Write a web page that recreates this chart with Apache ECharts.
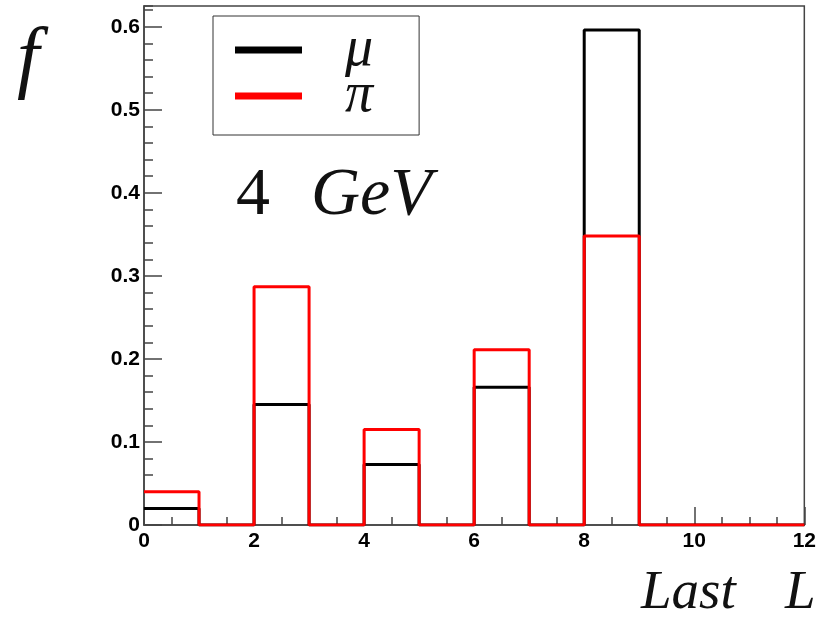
<!DOCTYPE html>
<html>
<head>
<meta charset="utf-8">
<script src="https://cdn.jsdelivr.net/npm/echarts@6/dist/echarts.min.js"></script>
<style>
  html, body { margin: 0; padding: 0; background: #fff; }
  #chart { width: 819px; height: 624px; }
</style>
</head>
<body>
<div id="chart"></div>
<script>
// bin edges of the "Last L" histogram and fraction per bin
var binEdges = [0, 1, 2, 3, 4, 5, 6, 7, 8, 9, 10, 11, 12]
var muValues = [0.020, 0, 0.145, 0, 0.073, 0, 0.166, 0, 0.596, 0, 0, 0]
var piValues = [0.040, 0, 0.287, 0, 0.115, 0, 0.211, 0, 0.348, 0, 0, 0]
var yTickLabels = ['0', '0.1', '0.2', '0.3', '0.4', '0.5', '0.6']

var AXIS_COLOR = '#444'
var SERIF = '"Liberation Serif", "DejaVu Serif", serif'
var SANS = '"Liberation Sans", Arial, sans-serif'

// step points: one per bin left edge, plus the last right edge
function toSteps(values) {
    var pts = []
    for (var i = 0; i < values.length; i++) {
        pts.push([binEdges[i], values[i]])
    }
    pts.push([binEdges[binEdges.length - 1], values[values.length - 1]])
    return pts
}

var chart = echarts.init(document.getElementById('chart'))

chart.setOption({
    animation: false,
    backgroundColor: '#fff',
    grid: {
        left: 144,
        right: 13,
        top: 6,
        bottom: 99,
        show: true,
        borderColor: AXIS_COLOR,
        borderWidth: 1.5
    },
    legend: {
        orient: 'vertical',
        left: 213,
        top: 16,
        padding: [6, 46, 11, 22],
        itemGap: -10,
        itemWidth: 67,
        itemHeight: 7,
        icon: 'rect',
        borderColor: '#333',
        borderWidth: 1,
        selectedMode: false,
        textStyle: {
            fontFamily: SERIF,
            fontStyle: 'italic',
            fontSize: 56,
            color: '#111',
            padding: [0, 0, 0, 38]
        },
        data: ['μ', 'π']
    },
    xAxis: {
        type: 'value',
        min: binEdges[0],
        max: binEdges[binEdges.length - 1],
        interval: 2,
        splitLine: { show: false },
        axisLine: { lineStyle: { color: AXIS_COLOR, width: 1.5 } },
        axisTick: { inside: true, length: 18, lineStyle: { color: AXIS_COLOR, width: 1.5 } },
        minorTick: { show: true, splitNumber: 4, length: 8, lineStyle: { color: AXIS_COLOR, width: 1.5 } },
        axisLabel: {
            margin: 6,
            color: '#000',
            fontFamily: SANS,
            fontWeight: 'bold',
            fontSize: 21
        }
    },
    yAxis: [{
        type: 'value',
        position: 'left',
        min: 0,
        max: 0.625,
        interval: 0.1,
        splitLine: { show: false },
        axisLine: { show: true, lineStyle: { color: AXIS_COLOR, width: 1.5 } },
        axisTick: { inside: true, length: 18, lineStyle: { color: AXIS_COLOR, width: 1.5 } },
        axisLabel: {
            margin: 4,
            showMaxLabel: false,
            color: '#000',
            fontFamily: SANS,
            fontWeight: 'bold',
            fontSize: 21,
            formatter: function (v) {
                var idx = Math.round(v * 10)
                return yTickLabels[idx] !== undefined ? yTickLabels[idx] : ''
            }
        }
    }, {
        // small ticks every 0.02
        type: 'value',
        position: 'left',
        min: 0,
        max: 0.625,
        interval: 0.02,
        splitLine: { show: false },
        axisLine: { show: false },
        axisTick: { inside: true, length: 9, lineStyle: { color: AXIS_COLOR, width: 1.5 } },
        axisLabel: { show: false }
    }],
    graphic: [
        { type: 'text', left: 17, top: 22, style: { text: 'f', font: 'italic 80px ' + SERIF, fill: '#111' } },
        { type: 'text', left: 236, top: 162, style: { text: '4', font: '68px ' + SERIF, fill: '#111' } },
        { type: 'text', left: 311, top: 162, style: { text: 'GeV', font: 'italic 68px ' + SERIF, fill: '#111' } },
        { type: 'text', left: 641, top: 566, style: { text: 'Last', font: 'italic 55px ' + SERIF, fill: '#111' } },
        { type: 'text', left: 785, top: 566, style: { text: 'L', font: 'italic 55px ' + SERIF, fill: '#111' } }
    ],
    series: [{
        name: 'μ',
        type: 'line',
        step: 'end',
        showSymbol: false,
        color: '#000',
        lineStyle: { color: '#000', width: 3 },
        data: toSteps(muValues)
    }, {
        name: 'π',
        type: 'line',
        step: 'end',
        showSymbol: false,
        color: '#ff0000',
        lineStyle: { color: '#ff0000', width: 3 },
        data: toSteps(piValues)
    }]
})
</script>
</body>
</html>
